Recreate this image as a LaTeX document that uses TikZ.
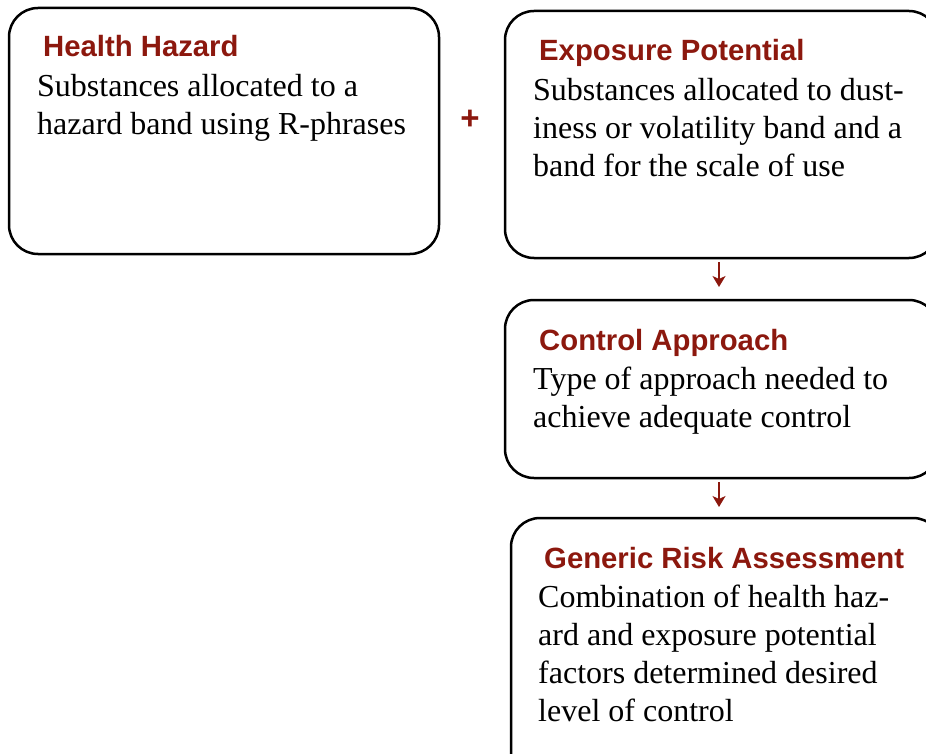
\documentclass[tikz,border=0pt]{standalone}
\usepackage{fontspec}
\setmainfont{Liberation Serif}
\setsansfont{Liberation Sans}
\usetikzlibrary{arrows.meta}
\definecolor{dred}{RGB}{140,24,14}
\tikzset{
  box/.style={draw=black, line width=2.5pt, rounded corners=29pt, rectangle, inner sep=0pt, outer sep=0pt},
  ttl/.style={anchor=base west, inner sep=0pt, text=dred, font=\sffamily\bfseries\fontsize{29.3}{34}\selectfont},
  body/.style={anchor=base west, inner sep=0pt, font=\fontsize{32}{38}\selectfont},
  flow/.style={dred, line width=1.5pt, -{Stealth[width=13pt,length=11pt,inset=3pt]}}
}
\newcommand{\bodytext}[1]{\parbox[t]{420pt}{\raggedright #1}}
\begin{document}
\begin{tikzpicture}[x=1pt,y=-1pt]
\useasboundingbox (0,0) rectangle (926,754);
\clip (0,0) rectangle (926,754);
% boxes
\node[box, minimum width=430pt, minimum height=246pt] (hh) at (224,131) {};
\node[box, minimum width=433pt, minimum height=247pt] (ep) at (721.5,134.5) {};
\node[box, minimum width=433pt, minimum height=178pt] (ca) at (721.5,389) {};
\node[box, minimum width=431pt, minimum height=272pt] (gr) at (726.5,654) {};
% texts
\node[ttl] (hht) at (43,57) {Health Hazard};
\node[body] (hhb) at (37,97) {\bodytext{Substances allocated to a\\hazard band using R-phrases}};
\node[ttl] (ept) at (539,61) {Exposure Potential};
\node[body] (epb) at (533,101) {\bodytext{Substances allocated to dust-\\iness or volatility band and a\\band for the scale of use}};
\node[ttl] (cat) at (539,350) {Control Approach};
\node[body] (cab) at (533,389) {\bodytext{Type of approach needed to\\achieve adequate control}};
\node[ttl] (grt) at (544,568) {Generic Risk Assessment};
\node[body] (grb) at (538,607) {\bodytext{Combination of health haz-\\ard and exposure potential\\factors determined desired\\level of control}};
% plus
\node[inner sep=0pt, text=dred, font=\sffamily\bfseries\fontsize{33}{36}\selectfont] (plus) at (470,120) {+};
% arrows
\coordinate (a1s) at (719,258);
\coordinate (a1e) at (719,300);
\coordinate (a2s) at (719,478);
\coordinate (a2e) at (719,518);
\draw[flow, shorten <=4pt, shorten >=13pt] (a1s) -- (a1e);
\draw[flow, shorten <=4pt, shorten >=11pt] (a2s) -- (a2e);
\end{tikzpicture}
\end{document}
